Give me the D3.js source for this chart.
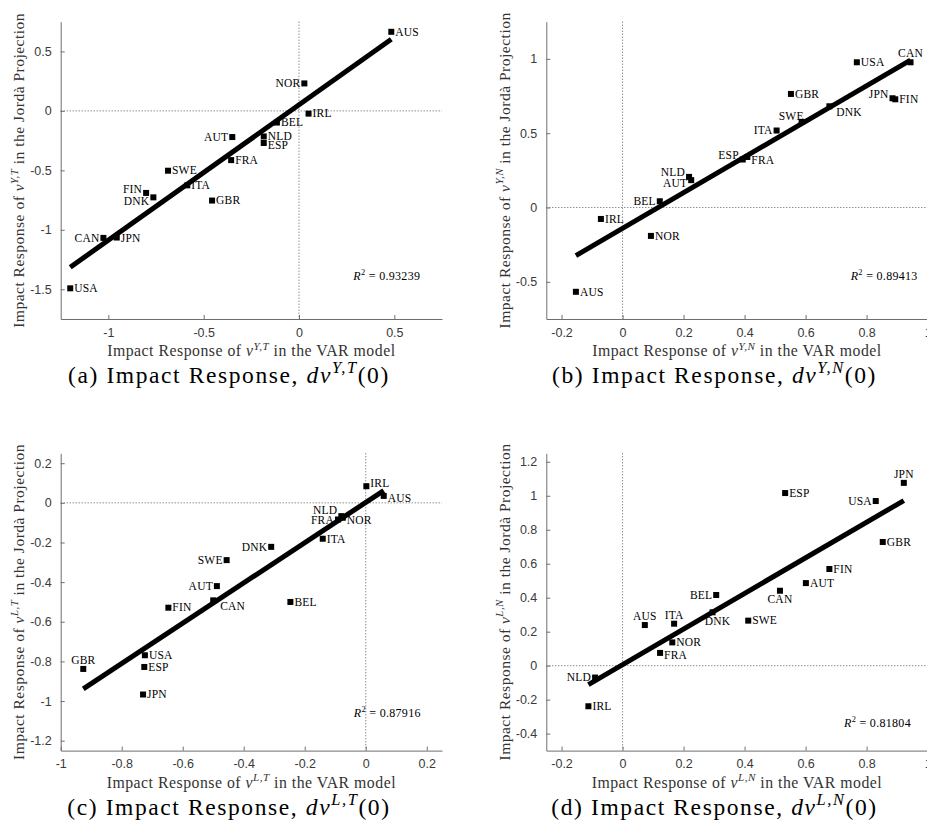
<!DOCTYPE html>
<html><head><meta charset="utf-8">
<script src="https://cdn.jsdelivr.net/npm/d3@7"></script>
<style>body{margin:0;background:#fff}svg{display:block}</style>
</head><body>
<svg id="c" width="927" height="823"></svg>
<script>
// ---------------- data ----------------
const countries = ["AUS","AUT","BEL","CAN","DNK","ESP","FIN","FRA","GBR","IRL","ITA","JPN","NLD","NOR","SWE","USA"];
const varYT   = [0.484,-0.35,-0.116,-1.026,-0.764,-0.185,-0.802,-0.356,-0.456,0.05,-0.586,-0.956,-0.185,0.028,-0.687,-1.2];
const jordaYT = [0.665,-0.22,-0.098,-1.068,-0.727,-0.27,-0.69,-0.414,-0.754,-0.023,-0.626,-1.065,-0.215,0.231,-0.503,-1.492];
const varYN   = [-0.153,0.225,0.122,0.944,0.678,0.394,0.894,0.409,0.552,-0.071,0.505,0.885,0.218,0.093,0.587,0.768];
const jordaYN = [-0.567,0.184,0.042,0.977,0.681,0.323,0.728,0.34,0.764,-0.077,0.518,0.735,0.206,-0.191,0.576,0.977];
const varLT   = [0.059,-0.488,-0.247,-0.5,-0.31,-0.726,-0.647,-0.091,-0.926,0.002,-0.141,-0.73,-0.08,-0.075,-0.456,-0.724];
const jordaLT = [0.035,-0.42,-0.5,-0.492,-0.222,-0.828,-0.529,-0.084,-0.838,0.084,-0.181,-0.967,-0.067,-0.075,-0.289,-0.769];
const varLN   = [0.073,0.601,0.307,0.516,0.295,0.533,0.678,0.123,0.853,-0.112,0.169,0.922,-0.09,0.163,0.412,0.83];
const jordaLN = [0.239,0.486,0.416,0.441,0.314,1.016,0.569,0.075,0.728,-0.239,0.247,1.076,-0.07,0.137,0.265,0.969];
const r2Values = ["0.93239","0.89413","0.87916","0.81804"];
const panelLetters = ["a","b","c","d"];
const panelSups = ["Y,T","Y,N","L,T","L,N"];
const xTicksA = [-1,-0.5,0,0.5],  yTicksA = [-1.5,-1,-0.5,0,0.5];
const xTicksB = [-0.2,0,0.2,0.4,0.6,0.8,1], yTicksB = [-0.5,0,0.5,1];
const xTicksC = [-1,-0.8,-0.6,-0.4,-0.2,0,0.2], yTicksC = [-1.2,-1,-0.8,-0.6,-0.4,-0.2,0,0.2];
const xTicksD = [-0.2,0,0.2,0.4,0.6,0.8,1], yTicksD = [-0.4,-0.2,0,0.2,0.4,0.6,0.8,1,1.2];

// ---------------- layout / style ----------------
const colX = [60.7, 546.3], rowY = [21.7, 453.3];
const PW = 381.3, PH = 297.3;
const serif = "'Liberation Serif','Times New Roman',serif";
const sans = "'Liberation Sans',Arial,sans-serif";
const placeA = {NOR:["l",0],AUT:["l",0],FIN:["l",-4],DNK:["l",4],CAN:["l",0],ESP:["r",2],JPN:["r",1]};
const placeB = {CAN:["t",0],JPN:["l",-4],DNK:["rb",0],SWE:["tl",0],ITA:["l",0],ESP:["l",-4],NLD:["l",-5],AUT:["l",3],BEL:["l",0],FRA:["r",3]};
const placeC = {NLD:["l",-6],FRA:["l",1],DNK:["l",0],SWE:["l",0],AUT:["l",0],CAN:["rb",0],GBR:["t",0],IRL:["r",-3],AUS:["r",2],NOR:["r",2]};
const placeD = {JPN:["t",0],USA:["l",0],CAN:["b",0],BEL:["l",0],DNK:["b",0,5],AUS:["t",0],ITA:["t",0],NLD:["l",0],FRA:["r",2]};

const panels = [
  {xs:varYT, ys:jordaYT, xd:[-1.25,0.75], yd:[-1.75,0.75], xt:xTicksA, yt:yTicksA, col:0,row:0, place:placeA, r2pos:[0.285,-1.389]},
  {xs:varYN, ys:jordaYN, xd:[-0.25,1],   yd:[-0.75,1.25], xt:xTicksB, yt:yTicksB, col:1,row:0, place:placeB, r2pos:[0.748,-0.462]},
  {xs:varLT, ys:jordaLT, xd:[-1,0.25],   yd:[-1.25,0.25], xt:xTicksC, yt:yTicksC, col:0,row:1, place:placeC, r2pos:[-0.039,-1.065]},
  {xs:varLN, ys:jordaLN, xd:[-0.25,1],   yd:[-0.5,1.25],  xt:xTicksD, yt:yTicksD, col:1,row:1, place:placeD, r2pos:[0.726,-0.339]}
];

const svg = d3.select("#c");
const fmt = v => d3.format("~g")(v).replace("\u2212","-");

function rich(sel, parts, fs){
  let shifted = 0;
  parts.forEach(p=>{
    const t = sel.append("tspan").text(p.t);
    if(p.i) t.attr("font-style","italic");
    if(p.sup){
      t.attr("font-size", fs*0.7).attr("dy", -fs*0.42);
      shifted = fs*0.42;
    } else if(shifted){
      t.attr("dy", shifted); shifted = 0;
    }
  });
}

panels.forEach((P,k)=>{
  const L = colX[P.col], T = rowY[P.row];
  const g = svg.append("g").attr("transform",`translate(${L},${T})`);
  const x = d3.scaleLinear().domain(P.xd).range([0,PW]);
  const y = d3.scaleLinear().domain(P.yd).range([PH,0]);

  // zero reference lines
  g.append("line").attr("x1",x(0)).attr("x2",x(0)).attr("y1",0).attr("y2",PH)
    .attr("stroke","#333").attr("stroke-width",0.8).attr("stroke-dasharray","1,2");
  g.append("line").attr("x1",0).attr("x2",PW).attr("y1",y(0)).attr("y2",y(0))
    .attr("stroke","#333").attr("stroke-width",0.8).attr("stroke-dasharray","1,2");

  // axes
  const xa = g.append("g").attr("transform",`translate(0,${PH})`)
    .call(d3.axisBottom(x).tickValues(P.xt).tickFormat(fmt).tickSizeInner(-4).tickSizeOuter(0).tickPadding(9));
  const ya = g.append("g")
    .call(d3.axisLeft(y).tickValues(P.yt).tickFormat(fmt).tickSizeInner(-4).tickSizeOuter(0).tickPadding(9));
  [xa,ya].forEach(a=>{
    a.select(".domain").attr("stroke","#6e6e6e");
    a.selectAll(".tick line").attr("stroke","#6e6e6e");
    a.selectAll(".tick text").attr("fill","#3a3a3a").attr("font-family",sans).attr("font-size",12.5);
  });

  // regression line (OLS computed from the data)
  const n = P.xs.length, mx = d3.mean(P.xs), my = d3.mean(P.ys);
  let sxy=0,sxx=0;
  for(let i=0;i<n;i++){ sxy+=(P.xs[i]-mx)*(P.ys[i]-my); sxx+=(P.xs[i]-mx)**2; }
  const b = sxy/sxx, a0 = my - b*mx;
  const [x0,x1] = d3.extent(P.xs);
  g.append("line").attr("x1",x(x0)).attr("y1",y(a0+b*x0)).attr("x2",x(x1)).attr("y2",y(a0+b*x1))
    .attr("stroke","#000").attr("stroke-width",5);

  // markers + labels
  const pts = countries.map((c,i)=>({c, vx:P.xs[i], vy:P.ys[i]}));
  g.selectAll("rect.m").data(pts).enter().append("rect")
    .attr("x",d=>x(d.vx)-3).attr("y",d=>y(d.vy)-3).attr("width",6).attr("height",6).attr("fill","#000");
  const fs = 11.5;
  pts.forEach(d=>{
    const pl = P.place[d.c] || ["r",0];
    const code = pl[0], dyc = pl[1]||0, dxx = pl[2]||0;
    let tx = x(d.vx), ty = y(d.vy) + dyc + fs*0.33, anchor="start";
    if(code==="r"){ tx += 4; }
    else if(code==="l"){ tx -= 4; anchor="end"; }
    else if(code==="t"){ anchor="middle"; ty = y(d.vy) - 5 + dyc; }
    else if(code==="b"){ anchor="middle"; ty = y(d.vy) + 12.5 + dyc; }
    else if(code==="rb"){ tx += 7; ty = y(d.vy) + 9.5 + dyc; }
    else if(code==="tl"){ tx += 2; anchor="end"; ty = y(d.vy) - 1.5 + dyc; }
    tx += dxx;
    g.append("text").attr("x",tx).attr("y",ty).attr("text-anchor",anchor)
      .attr("font-family",serif).attr("font-size",fs).attr("letter-spacing",0.2).attr("fill","#000").text(d.c);
  });

  // R^2 annotation
  const r2 = g.append("text").attr("x",x(P.r2pos[0])).attr("y",y(P.r2pos[1])+3.5)
    .attr("font-family",serif).attr("font-size",12).attr("letter-spacing",0.3).attr("fill","#000");
  rich(r2,[{t:"R",i:true},{t:"2",sup:true},{t:" = "+r2Values[k]}],12);

  // axis titles
  const xl = g.append("text").attr("x",PW/2).attr("y",PH+37.5).attr("text-anchor","middle")
    .attr("font-family",serif).attr("font-size",15.8).attr("letter-spacing",0.5).attr("fill","#333");
  rich(xl,[{t:"Impact Response of "},{t:"\u03BD",i:true},{t:panelSups[k],sup:true,i:true},{t:" in the VAR model"}],15.8);
  const yl = g.append("text").attr("transform",`translate(${24-60.7},${PH/2}) rotate(-90)`).attr("text-anchor","middle")
    .attr("font-family",serif).attr("font-size",15.5).attr("letter-spacing",0.5).attr("fill","#333");
  rich(yl,[{t:"Impact Response of "},{t:"\u03BD",i:true},{t:panelSups[k],sup:true,i:true},{t:" in the Jord\u00E0 Projection"}],15.5);

  // caption
  const cap = g.append("text").attr("x",PW/2-22.4).attr("y",PH+64.3).attr("text-anchor","middle")
    .attr("font-family",serif).attr("font-size",23.5).attr("letter-spacing",1.6).attr("fill","#000");
  rich(cap,[{t:"("+panelLetters[k]+") Impact Response, "},{t:"d\u03BD",i:true},{t:panelSups[k],sup:true,i:true},{t:"(0)"}],23.5);
});
</script>
</body></html>
